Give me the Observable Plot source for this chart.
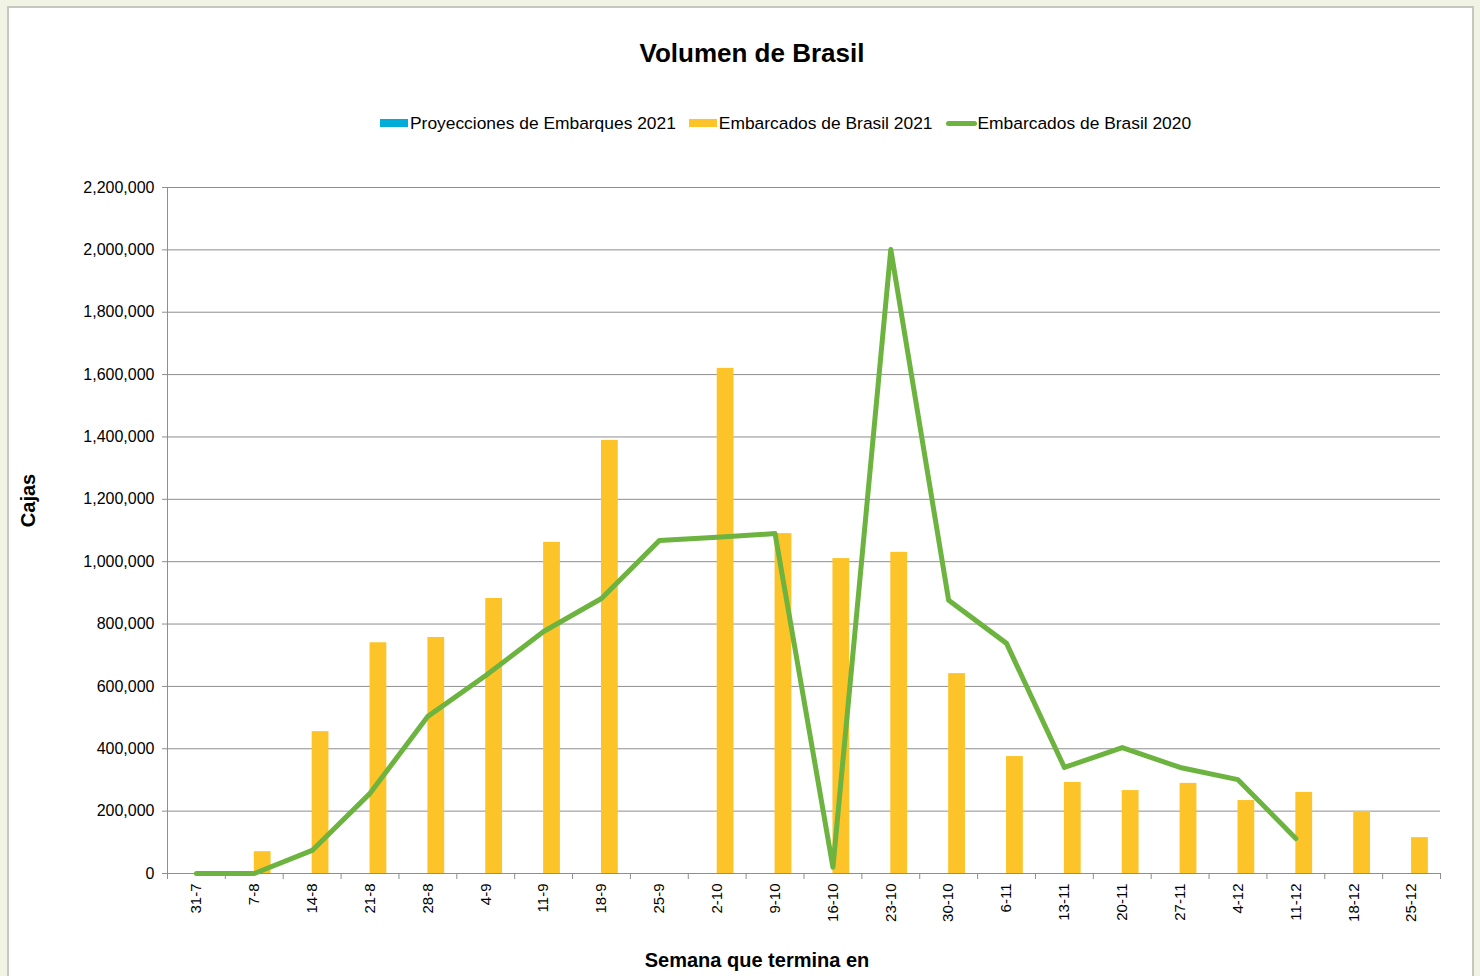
<!DOCTYPE html>
<html>
<head>
<meta charset="utf-8">
<script src="https://cdn.jsdelivr.net/npm/d3@7"></script>
<script src="https://cdn.jsdelivr.net/npm/@observablehq/plot@0.6"></script>
<style>
  html, body { margin: 0; padding: 0; background: #f1f3e5; }
  #wrap { position: relative; width: 1480px; height: 976px; overflow: hidden; font-family: "Liberation Sans", Arial, sans-serif; }
  #panel { position: absolute; left: 7px; top: 6px; width: 1467px; height: 990px; background: #fff; border: 2px solid #c6c8bf; box-sizing: border-box; }
  #title { position: absolute; left: 452px; width: 600px; top: 38px; line-height: 30px; text-align: center; font-size: 26px; font-weight: bold; color: #000; }
  #legend { position: absolute; left: 380px; top: 112px; height: 22px; display: flex; align-items: center; font-size: 17.4px; color: #000; white-space: nowrap; }
  .item { display: flex; align-items: center; margin-right: 13px; }
  .sw { width: 28px; height: 8px; margin-right: 2px; }
  .swl { width: 31px; height: 5px; border-radius: 3px; margin-right: 1px; }
  #chart { position: absolute; left: 0; top: 150px; }
</style>
</head>
<body>
<div id="wrap">
  <div id="panel"></div>
  <div id="title">Volumen de Brasil</div>
  <div id="legend"></div>
  <div id="chart"></div>
</div>
<script>
// ---- data ----
const weeks = ["31-7","7-8","14-8","21-8","28-8","4-9","11-9","18-9","25-9","2-10","9-10","16-10","23-10","30-10","6-11","13-11","20-11","27-11","4-12","11-12","18-12","25-12"];
const proyecciones2021 = [null,null,null,null,null,null,null,null,null,null,null,null,null,null,null,null,null,null,null,null,null,null];
const embarcados2021 = [0,70000,455000,740000,757000,882000,1062000,1389000,0,1620000,1090000,1010000,1030000,641000,375000,292000,266000,289000,234000,260000,199000,115000];
const embarcados2020 = [0,0,74000,257000,504000,635000,776000,882000,1068000,1078000,1090000,20000,2001000,876000,738000,340000,404000,340000,301000,112000,null,null];
const yTicks = [0,200000,400000,600000,800000,1000000,1200000,1400000,1600000,1800000,2000000,2200000];
const seriesNames = ["Proyecciones de Embarques 2021","Embarcados de Brasil 2021","Embarcados de Brasil 2020"];
const seriesColors = ["#00acd8","#fdc42a","#6cb33f"];

// ---- legend ----
const legend = document.getElementById("legend");
seriesNames.forEach((name, i) => {
  const it = document.createElement("div");
  it.className = "item";
  const sw = document.createElement("span");
  sw.className = i === 2 ? "swl" : "sw";
  sw.style.background = seriesColors[i];
  const tx = document.createElement("span");
  tx.textContent = name;
  it.appendChild(sw); it.appendChild(tx);
  legend.appendChild(it);
});

// ---- tables ----
const t2021 = weeks.map((w, i) => ({week: w, value: embarcados2021[i]}));
const tProj = weeks.map((w, i) => ({week: w, value: proyecciones2021[i]}));
const t2020 = weeks.map((w, i) => ({week: w, value: embarcados2020[i]})).filter(d => d.value != null);

// ---- layout ----
const W = 1480, H = 826, mL = 167, mR = 40, mT = 37, mB = 103;
const bw = (W - mL - mR) / weeks.length;
const barW = 16.8;
const plotH = H - mT - mB;
const gray = "#8e8e8e";

const chart = Plot.plot({
  width: W, height: H,
  marginLeft: mL, marginRight: mR, marginTop: mT, marginBottom: mB,
  style: {fontFamily: "'Liberation Sans', Arial, sans-serif", color: "#000", background: "transparent", overflow: "visible"},
  x: {type: "band", domain: weeks, padding: 0, round: false},
  y: {domain: [0, 2200000]},
  marks: [
    Plot.gridY(yTicks, {stroke: gray, strokeOpacity: 1, strokeWidth: 1}),
    Plot.barY(tProj, {x: "week", y: "value", fill: seriesColors[0], insetLeft: bw / 2 - barW, insetRight: bw / 2}),
    Plot.barY(t2021, {x: "week", y: "value", fill: seriesColors[1], insetLeft: bw / 2, insetRight: bw / 2 - barW}),
    Plot.ruleY([0], {stroke: gray, strokeWidth: 1}),
    Plot.ruleX([weeks[0]], {dx: -bw / 2, stroke: gray, strokeWidth: 1}),
    Plot.ruleX(weeks, {dx: -bw / 2, stroke: gray, insetTop: plotH, insetBottom: -6}),
    Plot.ruleX([weeks[weeks.length - 1]], {dx: bw / 2, stroke: gray, insetTop: plotH, insetBottom: -6}),
    Plot.lineY(t2020, {x: "week", y: "value", stroke: seriesColors[2], strokeWidth: 5, strokeLinejoin: "round", strokeLinecap: "round"}),
    Plot.axisY(yTicks, {tickSize: 5, tickPadding: 8, fontSize: 16, tickFormat: d3.format(","), label: null, stroke: gray}),
    Plot.axisX({tickSize: 0, tickPadding: 10, tickRotate: -90, fontSize: 15, label: null}),
    Plot.text(["Semana que termina en"], {frameAnchor: "bottom", dx: -47, dy: 87, textAnchor: "middle", lineAnchor: "middle", fontSize: 20, fontWeight: "bold", fill: "#000"}),
    Plot.text(["Cajas"], {frameAnchor: "left", dx: -139, dy: -30, rotate: -90, textAnchor: "middle", lineAnchor: "middle", fontSize: 20, fontWeight: "bold", fill: "#000"})
  ]
});
document.getElementById("chart").appendChild(chart);
</script>
</body>
</html>
